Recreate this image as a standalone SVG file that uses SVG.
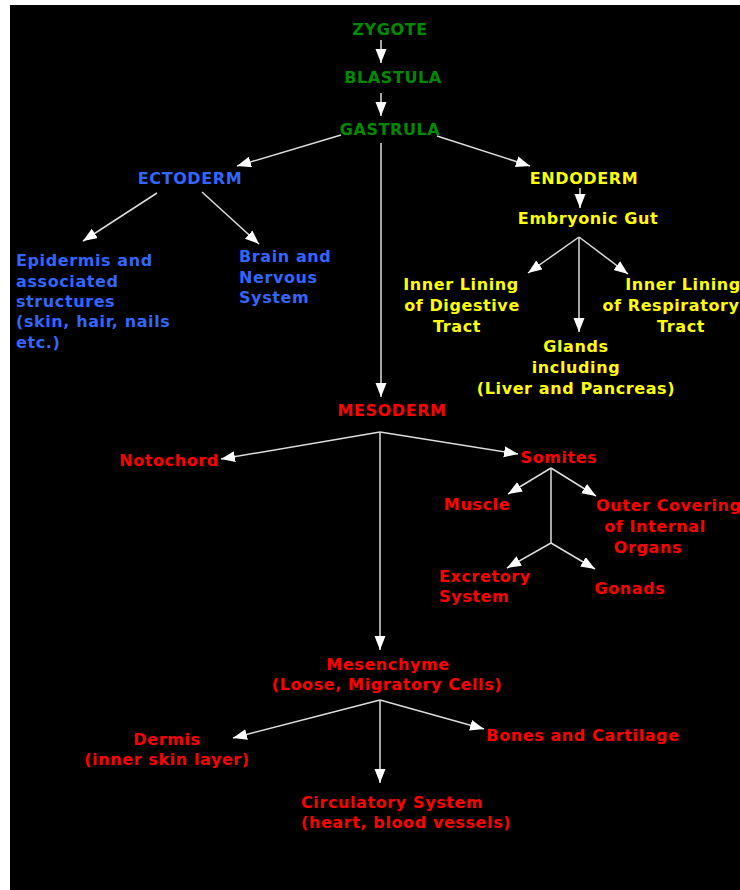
<svg xmlns="http://www.w3.org/2000/svg" width="740" height="890" viewBox="0 0 740 890">
<defs>
<style>
text{font-family:"DejaVu Sans",Verdana,sans-serif;font-weight:bold;font-size:16px;letter-spacing:0.6px}
.m{text-anchor:middle}
.g{fill:#008a00}.b{fill:#3366ff}.y{fill:#ffff00}.r{fill:#ff0000}
.c path{fill:none;stroke:#dcdcdc;stroke-width:1.5}
.a{marker-end:url(#ah)}
</style>
<marker id="ah" markerUnits="userSpaceOnUse" markerWidth="15" markerHeight="12" refX="14" refY="5.5" orient="auto">
<path d="M0,0 L14,5.5 L0,11 Z" fill="#ffffff"/>
</marker>
</defs>
<rect x="0" y="0" width="740" height="890" fill="#ffffff"/>
<rect x="10" y="5" width="730" height="885" fill="#000000"/>
<g class="c" id="connectors">
<path class="a" d="M381,40 V63"/>
<path class="a" d="M381,93 V116"/>
<path class="a" d="M341,135 L237,166"/>
<path class="a" d="M437,136 L530,166"/>
<path class="a" d="M381,143 V397"/>
<path class="a" d="M157,193 L83,241"/>
<path class="a" d="M202,192 L259,244"/>
<path class="a" d="M580,188 V208"/>
<path class="a" d="M579,237 L528,273"/>
<path class="a" d="M579,237 V332"/>
<path class="a" d="M579,237 L628,274"/>
<path class="a" d="M380,432 L221,459"/>
<path class="a" d="M380,432 L518,454"/>
<path class="a" d="M380,432 V650"/>
<path class="a" d="M551,468 L508,494"/>
<path class="a" d="M551,468 L596,496"/>
<path d="M551,468 V543"/>
<path class="a" d="M551,543 L507,568"/>
<path class="a" d="M551,543 L595,569"/>
<path class="a" d="M380,700 L233,738"/>
<path class="a" d="M380,700 L484,729"/>
<path class="a" d="M380,700 V783"/>
</g>
<g id="zygote"><text class="m g" x="390" y="35">ZYGOTE</text></g>
<g id="blastula"><text class="m g" x="393" y="83">BLASTULA</text></g>
<g id="gastrula"><text class="m g" x="390" y="135">GASTRULA</text></g>
<g id="ectoderm"><text class="m b" x="190" y="184">ECTODERM</text></g>
<g id="epidermis"><text class="b" x="16" y="266">Epidermis and</text><text class="b" x="16" y="287">associated</text><text class="b" x="16" y="307">structures</text><text class="b" x="16" y="327">(skin, hair, nails</text><text class="b" x="16" y="348">etc.)</text></g>
<g id="brain"><text class="b" x="239" y="262">Brain and</text><text class="b" x="239" y="283">Nervous</text><text class="b" x="239" y="303">System</text></g>
<g id="endoderm"><text class="m y" x="584" y="184">ENDODERM</text></g>
<g id="gut"><text class="m y" x="588" y="224">Embryonic Gut</text></g>
<g id="digestive"><text class="m y" x="461" y="290">Inner Lining</text><text class="m y" x="462" y="311">of Digestive</text><text class="m y" x="457" y="332">Tract</text></g>
<g id="respiratory"><text class="m y" x="683" y="290">Inner Lining</text><text class="m y" x="671" y="311">of Respiratory</text><text class="m y" x="681" y="332">Tract</text></g>
<g id="glands"><text class="m y" x="576" y="352">Glands</text><text class="m y" x="576" y="373">including</text><text class="m y" x="576" y="394">(Liver and Pancreas)</text></g>
<g id="mesoderm"><text class="m r" x="392" y="416">MESODERM</text></g>
<g id="notochord"><text class="m r" x="169" y="466">Notochord</text></g>
<g id="somites"><text class="m r" x="559" y="463">Somites</text></g>
<g id="muscle"><text class="m r" x="477" y="510">Muscle</text></g>
<g id="outer"><text class="r" x="596" y="511">Outer Covering</text><text class="m r" x="655" y="532">of Internal</text><text class="m r" x="648" y="553">Organs</text></g>
<g id="excretory"><text class="r" x="439" y="582">Excretory</text><text class="r" x="439" y="602">System</text></g>
<g id="gonads"><text class="m r" x="630" y="594">Gonads</text></g>
<g id="mesenchyme"><text class="m r" x="388" y="670">Mesenchyme</text><text class="m r" x="387" y="690">(Loose, Migratory Cells)</text></g>
<g id="dermis"><text class="m r" x="167" y="745">Dermis</text><text class="m r" x="167" y="765">(inner skin layer)</text></g>
<g id="bones"><text class="m r" x="583" y="741">Bones and Cartilage</text></g>
<g id="circulatory"><text class="r" x="301" y="808">Circulatory System</text><text class="r" x="301" y="828">(heart, blood vessels)</text></g>
</svg>
